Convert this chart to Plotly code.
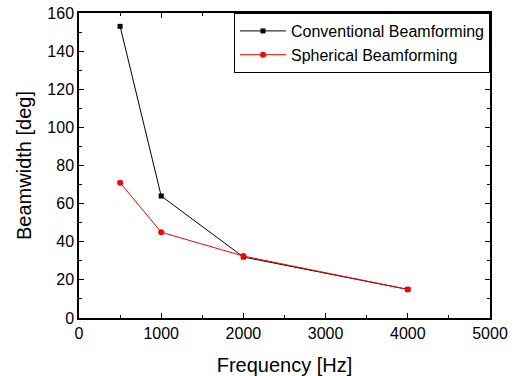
import plotly.graph_objects as go

freq = [500, 1000, 2000, 4000]
conventional = [153, 64, 32, 15]
spherical = [71, 45, 32.5, 15]

fig = go.Figure()
fig.add_trace(go.Scatter(x=freq, y=conventional, mode="lines+markers",
                         name="Conventional Beamforming",
                         line=dict(color="black", width=1),
                         marker=dict(symbol="square", size=5, color="black")))
fig.add_trace(go.Scatter(x=freq, y=spherical, mode="lines+markers",
                         name="Spherical Beamforming",
                         line=dict(color="red", width=1),
                         marker=dict(symbol="circle", size=6, color="red")))

axis_common = dict(showline=True, linecolor="black", linewidth=1.5, mirror="ticks",
                   ticks="inside", ticklen=5, tickcolor="black", showgrid=False,
                   zeroline=False, tickfont=dict(size=16, color="black"))
fig.update_xaxes(range=[0, 5000], dtick=1000,
                 minor=dict(ticks="inside", ticklen=3, dtick=500, tickcolor="black"),
                 title=dict(text="Frequency [Hz]", font=dict(size=20, color="black"), standoff=17),
                 **axis_common)
fig.update_yaxes(range=[0, 160], dtick=20,
                 minor=dict(ticks="inside", ticklen=3, dtick=10, tickcolor="black"),
                 title=dict(text="Beamwidth [deg]", font=dict(size=20, color="black"), standoff=10),
                 **axis_common)
fig.update_layout(
    width=516, height=376,
    margin=dict(l=79, r=26, t=13, b=58, autoexpand=False),
    paper_bgcolor="white", plot_bgcolor="white",
    font=dict(family="Liberation Sans, Arial, sans-serif", color="black"),
    legend=dict(x=1, y=1, xanchor="right", yanchor="top",
                bordercolor="black", borderwidth=1, bgcolor="white",
                font=dict(size=16), tracegroupgap=0, itemwidth=46),
    showlegend=True,
)
fig.write_html("out.html", config={"displayModeBar": False},
               post_script="document.body.style.margin='0';")
